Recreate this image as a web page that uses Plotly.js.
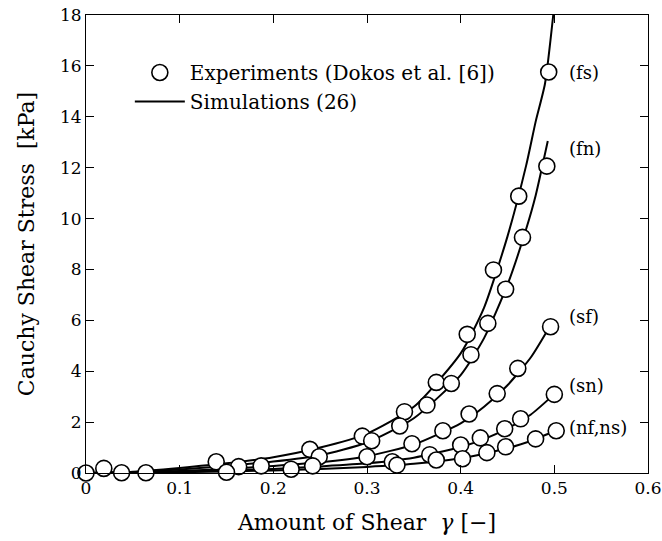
<!DOCTYPE html>
<html>
<head>
<meta charset="utf-8">
<script src="https://cdn.plot.ly/plotly-3.0.1.min.js"></script>
<style>html,body{margin:0;padding:0;background:#fff;}#chart{width:662px;height:541px;}</style>
</head>
<body>
<div id="chart"></div>
<script>
// Experimental data (Dokos et al.)
const expFsX = [0, 0.019, 0.139, 0.239, 0.295, 0.340, 0.374, 0.407, 0.435, 0.462, 0.494];
const expFsY = [0, 0.18, 0.44, 0.93, 1.45, 2.41, 3.56, 5.45, 7.98, 10.88, 15.76];
const expFnX = [0.163, 0.249, 0.305, 0.335, 0.364, 0.390, 0.411, 0.429, 0.448, 0.466, 0.492];
const expFnY = [0.25, 0.64, 1.27, 1.85, 2.67, 3.52, 4.65, 5.88, 7.22, 9.26, 12.06];
const expSfX = [0.187, 0.242, 0.300, 0.348, 0.381, 0.409, 0.439, 0.461, 0.496];
const expSfY = [0.28, 0.28, 0.64, 1.15, 1.66, 2.32, 3.12, 4.11, 5.75];
const expSnX = [0.038, 0.219, 0.327, 0.367, 0.400, 0.421, 0.447, 0.464, 0.500];
const expSnY = [0.01, 0.15, 0.44, 0.72, 1.10, 1.38, 1.74, 2.13, 3.09];
const expNfX = [0.064, 0.150, 0.332, 0.374, 0.402, 0.428, 0.448, 0.480, 0.502];
const expNfY = [0.01, 0.03, 0.31, 0.51, 0.56, 0.80, 1.03, 1.34, 1.66];

// Simulated curves (26)
const simFsX = [0, 0.05, 0.1, 0.15, 0.2, 0.25, 0.3, 0.35, 0.4, 0.425, 0.45, 0.47, 0.48, 0.49, 0.5];
const simFsY = [0, 0.05, 0.2, 0.38, 0.62, 1.0, 1.55, 2.6, 4.7, 6.5, 9.3, 12.1, 13.8, 15.3, 18.4];
const simFnX = [0, 0.05, 0.1, 0.15, 0.2, 0.25, 0.3, 0.35, 0.4, 0.425, 0.45, 0.47, 0.48, 0.493];
const simFnY = [0, 0.04, 0.14, 0.28, 0.45, 0.7, 1.2, 2.15, 3.85, 5.3, 7.4, 9.6, 10.9, 13.05];
const simSfX = [0, 0.05, 0.1, 0.15, 0.2, 0.25, 0.3, 0.35, 0.4, 0.425, 0.45, 0.475, 0.495];
const simSfY = [0, 0.02, 0.08, 0.16, 0.28, 0.42, 0.66, 1.12, 1.95, 2.6, 3.45, 4.55, 5.75];
const simSnX = [0, 0.1, 0.2, 0.25, 0.3, 0.35, 0.4, 0.425, 0.45, 0.475, 0.5];
const simSnY = [0, 0.05, 0.16, 0.26, 0.38, 0.6, 1.02, 1.33, 1.75, 2.3, 3.1];
const simNfX = [0, 0.1, 0.2, 0.25, 0.3, 0.35, 0.4, 0.425, 0.45, 0.475, 0.5];
const simNfY = [0, 0.03, 0.1, 0.16, 0.24, 0.36, 0.58, 0.76, 0.98, 1.26, 1.64];

const curveLabels = ["(fs)", "(fn)", "(sf)", "(sn)", "(nf,ns)"];
const labelY = [15.76, 12.77, 6.17, 3.42, 1.77];
const labelX = 0.514;

const xTicks = [0, 0.1, 0.2, 0.3, 0.4, 0.5, 0.6];
const xTickText = ["0", "0.1", "0.2", "0.3", "0.4", "0.5", "0.6"];
const yTicks = [0, 2, 4, 6, 8, 10, 12, 14, 16, 18];

const FONT = "DejaVu Serif, serif";

const simX = [simFsX, simFnX, simSfX, simSnX, simNfX];
const simY = [simFsY, simFnY, simSfY, simSnY, simNfY];
const expX = [expFsX, expFnX, expSfX, expSnX, expNfX];
const expY = [expFsY, expFnY, expSfY, expSnY, expNfY];

const traces = [];
for (let i = 0; i < 5; i++) {
  traces.push({
    x: simX[i], y: simY[i], type: 'scatter', mode: 'lines',
    line: {color: '#000', width: 2, shape: 'spline', smoothing: 0.6},
    name: 'Simulations (26)', showlegend: i === 0, legendrank: 2,
    hoverinfo: 'skip'
  });
}
for (let i = 0; i < 5; i++) {
  traces.push({
    x: expX[i], y: expY[i], type: 'scatter', mode: 'markers',
    marker: {symbol: 'circle', size: 16, color: '#fff', line: {color: '#000', width: 1.6}},
    name: 'Experiments (Dokos et al. [6])', showlegend: i === 0, legendrank: 1,
    cliponaxis: false, hoverinfo: 'skip'
  });
}

const annotations = curveLabels.map((t, i) => ({
  x: labelX, y: labelY[i], xref: 'x', yref: 'y', text: t, showarrow: false,
  xanchor: 'left', yanchor: 'middle', font: {family: FONT, size: 18, color: '#000'}
}));

const layout = {
  width: 662, height: 541,
  margin: {l: 86, r: 14, t: 15, b: 68},
  paper_bgcolor: '#fff', plot_bgcolor: '#fff',
  font: {family: FONT, size: 17, color: '#000'},
  showlegend: true,
  legend: {
    x: 0.078, y: 0.917, xanchor: 'left', yanchor: 'top',
    bgcolor: 'rgba(0,0,0,0)', borderwidth: 0,
    font: {family: FONT, size: 20, color: '#000'},
    traceorder: 'normal', itemwidth: 50, tracegroupgap: 0
  },
  xaxis: {
    range: [0, 0.6], tickvals: xTicks, ticktext: xTickText,
    ticks: 'inside', ticklen: 8, tickwidth: 1, tickcolor: '#000',
    showline: true, linecolor: '#000', linewidth: 1, mirror: 'ticks',
    showgrid: false, zeroline: false,
    tickfont: {family: FONT, size: 17, color: '#000'},
    title: {text: 'Amount of Shear&#160;&#160;<i>γ</i> [−]', font: {family: FONT, size: 22, color: '#000'}, standoff: 17}
  },
  yaxis: {
    range: [0, 18], tickvals: yTicks,
    ticks: 'inside', ticklen: 8, tickwidth: 1, tickcolor: '#000',
    showline: true, linecolor: '#000', linewidth: 1, mirror: 'ticks',
    showgrid: false, zeroline: false,
    tickfont: {family: FONT, size: 17, color: '#000'},
    title: {text: 'Cauchy Shear Stress&#160;&#160;[kPa]', font: {family: FONT, size: 22, color: '#000'}, standoff: 19}
  },
  annotations: annotations
};

Plotly.newPlot('chart', traces, layout, {displayModeBar: false, staticPlot: true});
</script>
</body>
</html>
